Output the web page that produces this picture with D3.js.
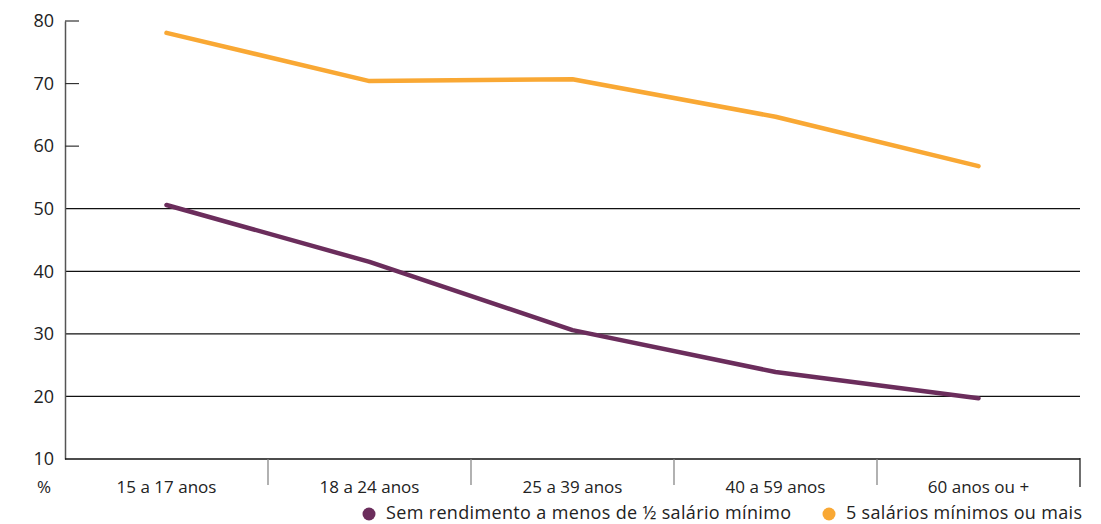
<!DOCTYPE html>
<html><head><meta charset="utf-8">
<script src="https://cdn.jsdelivr.net/npm/d3@7"></script>
<style>body{margin:0;background:#fff}svg{display:block}text{font-family:"Open Sans",sans-serif;fill:#222}</style>
</head><body>
<svg id="c" width="1101" height="524"></svg>
<script>
const categories = ["15 a 17 anos","18 a 24 anos","25 a 39 anos","40 a 59 anos","60 anos ou +"];
const semRendimento = [50.6, 41.5, 30.6, 23.9, 19.7];
const cincoSalarios = [78.1, 70.4, 70.7, 64.7, 56.8];
const yTicks = [10,20,30,40,50,60,70,80];
const gridValues = [20,30,40,50];
const seriesNames = ["Sem rendimento a menos de ½ salário mínimo","5 salários mínimos ou mais"];
const colors = ["#6B2D5C","#F9A834"];

(function(){
const svg = d3.select("#c");
const mLeft = 65, mRight = 1080, mTop = 21, mBottom = 459;
const x = d3.scaleBand().domain(categories).range([mLeft,mRight]);
const y = d3.scaleLinear().domain([10,80]).range([mBottom,mTop]);

svg.append("g").selectAll("line").data(gridValues).join("line")
  .attr("x1",mLeft).attr("x2",mRight).attr("y1",d=>y(d)).attr("y2",d=>y(d))
  .attr("stroke","#111").attr("stroke-width",1.2);

const yAxis = svg.append("g").attr("transform",`translate(${mLeft},0)`)
  .call(d3.axisLeft(y).tickValues(yTicks).tickSize(0).tickPadding(11));
yAxis.select(".domain").attr("stroke","#555").attr("stroke-width",1.5);
yAxis.selectAll("text").style("font-size","18px").attr("fill","#222");
svg.append("g").selectAll("line").data([60,70,80]).join("line")
  .attr("x1",mLeft).attr("x2",mLeft+14).attr("y1",d=>y(d)).attr("y2",d=>y(d))
  .attr("stroke","#333").attr("stroke-width",1.2);

svg.append("line").attr("x1",mLeft).attr("x2",mRight).attr("y1",mBottom).attr("y2",mBottom)
  .attr("stroke","#111").attr("stroke-width",1.4);
const seps = categories.slice(1).map(c=>x(c));
svg.append("g").selectAll("line").data(seps).join("line")
  .attr("x1",d=>d).attr("x2",d=>d).attr("y1",mBottom).attr("y2",mBottom+26)
  .attr("stroke","#888").attr("stroke-width",1.3);
svg.append("line").attr("x1",mRight).attr("x2",mRight).attr("y1",mBottom-1).attr("y2",mBottom+28)
  .attr("stroke","#222").attr("stroke-width",1.3);

svg.append("g").selectAll("text").data(categories).join("text")
  .attr("x",d=>x(d)+x.bandwidth()/2).attr("y",493).attr("text-anchor","middle")
  .style("font-size","17px").text(d=>d);
svg.append("text").attr("x",44).attr("y",493).attr("text-anchor","middle")
  .style("font-size","17px").text("%");

const line = d3.line().x((d,i)=>x(categories[i])+x.bandwidth()/2).y(d=>y(d));
[semRendimento,cincoSalarios].forEach((s,i)=>{
  svg.append("path").datum(s).attr("d",line).attr("fill","none")
    .attr("stroke",colors[i]).attr("stroke-width",4.5).attr("stroke-linecap","round").attr("stroke-linejoin","round");
});

const legX = [369, 829];
const legW = [405, 236];
seriesNames.forEach((n,i)=>{
  svg.append("circle").attr("cx",legX[i]).attr("cy",514).attr("r",6.5).attr("fill",colors[i]);
  svg.append("text").attr("x",legX[i]+17).attr("y",519).style("font-size","18px")
    .attr("textLength",legW[i]).attr("lengthAdjust","spacing").text(n);
});
})();
</script>
</body></html>
